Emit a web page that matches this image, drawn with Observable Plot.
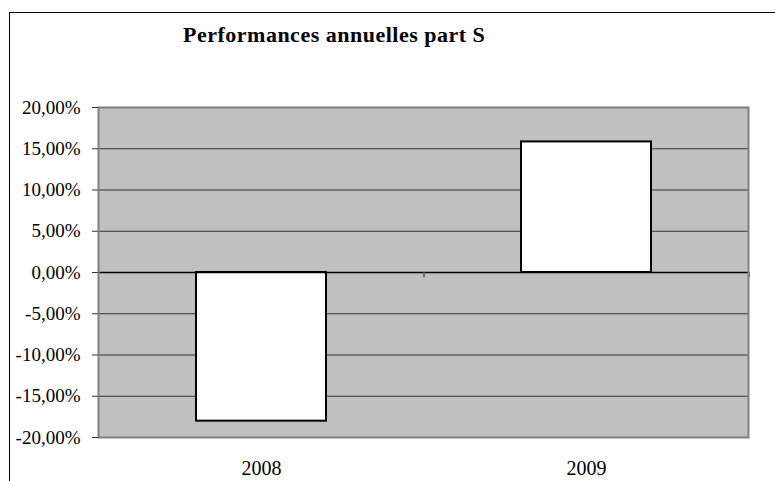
<!DOCTYPE html>
<html>
<head>
<meta charset="utf-8">
<script src="https://cdn.jsdelivr.net/npm/d3@7"></script>
<script src="https://cdn.jsdelivr.net/npm/@observablehq/plot@0.6"></script>
<style>
  html, body { margin: 0; padding: 0; background: #fff; overflow: hidden; }
  #wrap { position: relative; width: 775px; height: 481px; font-family: 'Liberation Serif'; }
  #border { position: absolute; left: 9px; top: 12px; width: 900px; height: 600px; border-left: 1.5px solid #000; border-top: 1.5px solid #000; }
  #title { position: absolute; left: 183px; top: 22px; white-space: nowrap; font-family: 'Liberation Serif'; font-weight: bold; font-size: 22px; letter-spacing: 0.5px; color: #000; }
  #chart { position: absolute; left: 0; top: 0; }
  #chart svg text { font-family: 'Liberation Serif'; }
</style>
</head>
<body>
<div id="wrap">
  <div id="border"></div>
  <div id="chart"></div>
  <div id="title">Performances annuelles part S</div>
</div>
<script>
const categories = ["2008", "2009"];
const values = [-0.1802, 0.1583];
const yTicks = [-0.20, -0.15, -0.10, -0.05, 0.00, 0.05, 0.10, 0.15, 0.20];

const data = categories.map((c, i) => ({year: c, value: values[i]}));
const fmt = v => (v * 100).toFixed(2).replace(".", ",") + "%";

const W = 775, H = 481, mL = 98, mR = 27, mT = 107, mB = 44;
const step = (W - mL - mR) / categories.length;

const plot = Plot.plot({
  width: W,
  height: H,
  marginLeft: mL,
  marginRight: mR,
  marginTop: mT,
  marginBottom: mB,
  style: {fontFamily: "Liberation Serif", fontSize: "19px", color: "#000", background: "transparent", overflow: "visible"},
  x: {domain: categories, paddingInner: 0.6, paddingOuter: 0.3, label: null},
  y: {domain: [-0.2, 0.2], label: null},
  marks: [
    Plot.frame({fill: "#c0c0c0", stroke: "none"}),
    Plot.ruleY(yTicks.filter(t => t !== 0 && t !== 0.2 && t !== -0.2), {stroke: "#333", strokeWidth: 1}),
    Plot.barY(data, {x: "year", y: "value", fill: "#fff", stroke: "#000", strokeWidth: 2}),
    Plot.ruleY([0], {stroke: "#000", strokeWidth: 1.5}),
    Plot.ruleX(categories, {x: d => d, dx: step / 2, y1: 0, y2: -0.0065, stroke: "#555", strokeWidth: 1.5}),
    Plot.frame({stroke: "#808080", strokeWidth: 2}),
    Plot.axisY({ticks: yTicks, tickFormat: fmt, tickSize: 6, tickPadding: 12, stroke: "#333", label: null}),
    Plot.axisX({tickSize: 0, tickPadding: 23, fontSize: 20, label: null})
  ]
});
document.getElementById("chart").appendChild(plot);
</script>
</body>
</html>
